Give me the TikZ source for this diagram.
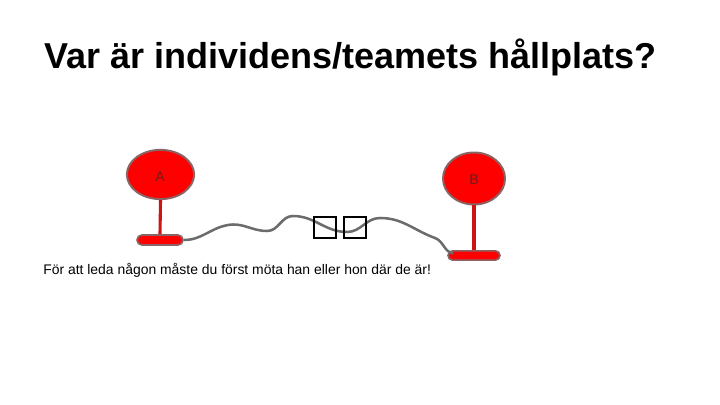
\documentclass[tikz,border=0pt]{standalone}
\usepackage{fontspec}
\setmainfont{Liberation Sans}
\usepackage{tikz}
\usetikzlibrary{positioning, shapes.geometric, shapes.misc, calc}

\definecolor{signred}{HTML}{FF0000}
\definecolor{signedge}{HTML}{8A6464}
\definecolor{polered}{HTML}{CC1414}
\definecolor{wiregray}{HTML}{6C6C6C}
\definecolor{labeltext}{HTML}{6E1C1C}

\begin{document}
\begin{tikzpicture}[
    x=0.025cm, y=-0.025cm,
    sign/.style={ellipse, draw=signedge, fill=signred, line width=1.4pt, inner sep=0pt},
    base/.style={rounded rectangle, draw=signedge, fill=signred, line width=1.2pt, inner sep=0pt},
    pole/.style={polered, line width=2.2pt},
    wire/.style={wiregray, line width=1.8pt},
    tofu/.style={draw=black, line width=1.4pt, minimum width=0.53cm, minimum height=0.51cm, inner sep=0pt},
    stoplabel/.style={font=\fontsize{10}{12}\selectfont, text=labeltext, inner sep=0pt}
]
    \useasboundingbox (0, 0) rectangle (720, 405);

    % === Title ===
    \node[anchor=base west, inner sep=0pt, font=\fontsize{25.6}{30}\selectfont\bfseries] (title) at (44, 69) {Var är individens/teamets hållplats?};

    % === Stop A ===
    \node[sign, minimum width=1.68cm, minimum height=1.23cm] (signA) at (160.5, 174.5) {};
    \node[stoplabel] (labelA) at (160, 177) {A};
    \node[base, minimum width=1.15cm, minimum height=0.25cm] (baseA) at (160, 240) {};
    \draw[pole] (signA.south) -- (baseA.north);

    % === Stop B ===
    \node[sign, minimum width=1.55cm, minimum height=1.3cm] (signB) at (474, 178.5) {};
    \node[stoplabel] (labelB) at (474, 179.5) {B};
    \node[base, minimum width=1.3cm, minimum height=0.23cm] (baseB) at (474, 255.5) {};
    \draw[pole] (signB.south) -- (baseB.north);

    % === Wire between the stops ===
    \draw[wire] (baseA.east) to[out=0, in=190] (228, 225)
        to[out=10, in=180] (267, 231)
        to[out=0, in=180] (293, 216)
        to[out=0, in=180] (347, 232)
        to[out=0, in=180] (380, 218)
        to[out=0, in=160] (435, 238)
        to[out=-20, in=170] ($(baseB.west)+(6, -2)$);

    % === Missing glyphs ===
    \node[tofu] (boxL) at (325, 227.5) {};
    \node[tofu] (boxR) at (355, 227.5) {};

    % === Caption ===
    \node[anchor=base west, inner sep=0pt, font=\fontsize{9.9}{12}\selectfont] (caption) at (43, 274) {För att leda någon måste du först möta han eller hon där de är!};
\end{tikzpicture}
\end{document}
